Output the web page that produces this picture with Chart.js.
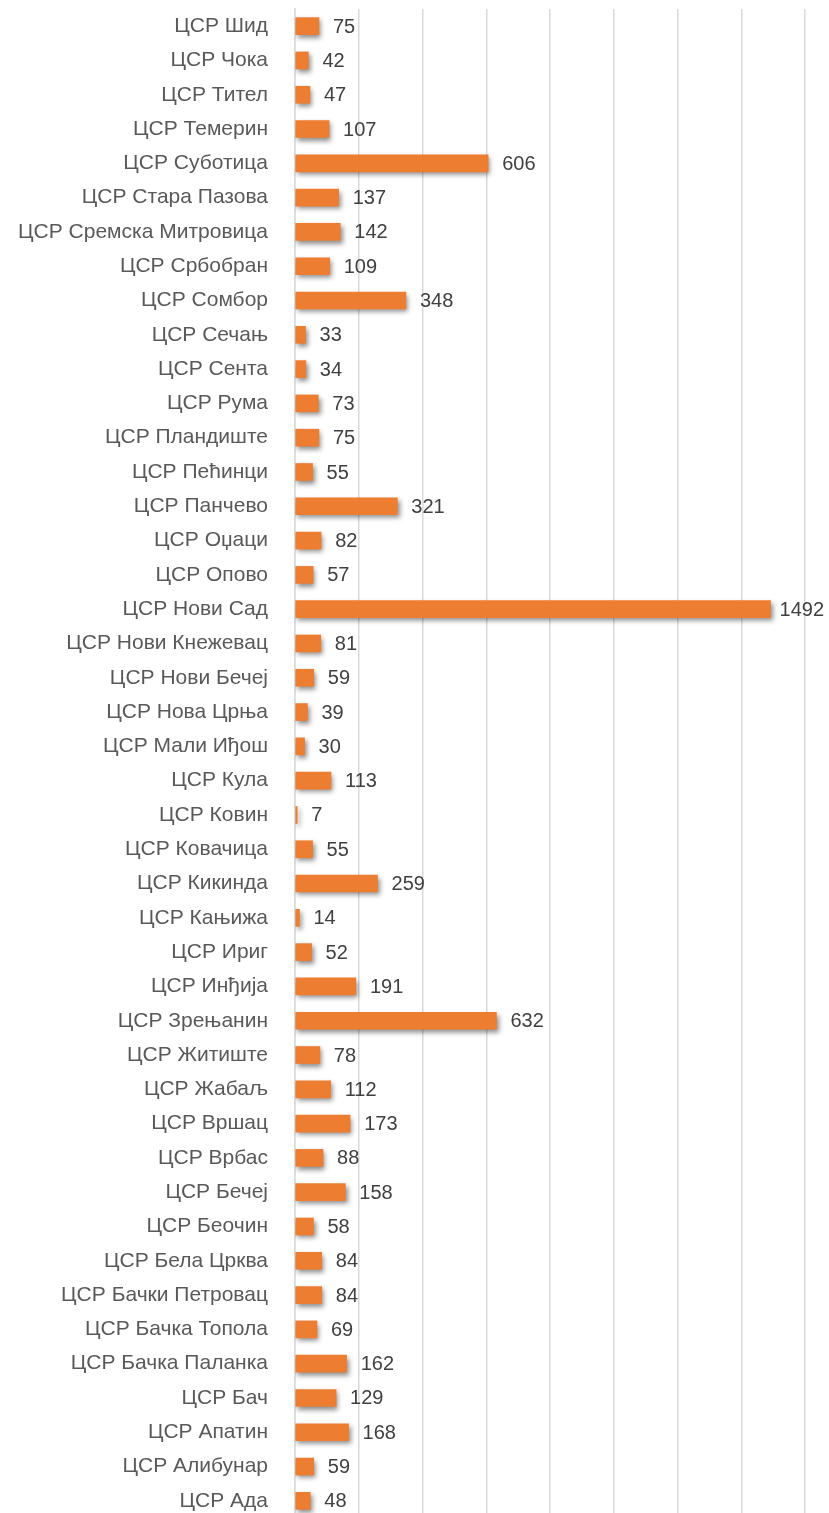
<!DOCTYPE html>
<html>
<head>
<meta charset="utf-8">
<script src="https://cdn.jsdelivr.net/npm/chart.js@4.4.1/dist/chart.umd.min.js"></script>
<style>
  html, body { margin: 0; padding: 0; background: #fff; overflow: hidden; }
  #wrap { position: relative; width: 829px; height: 1518px; }
</style>
</head>
<body>
<div id="wrap"><canvas id="csr"></canvas></div>
<script>
const centers = ['ЦСР Шид', 'ЦСР Чока', 'ЦСР Тител', 'ЦСР Темерин', 'ЦСР Суботица', 'ЦСР Стара Пазова',
    'ЦСР Сремска Митровица', 'ЦСР Србобран', 'ЦСР Сомбор', 'ЦСР Сечањ', 'ЦСР Сента', 'ЦСР Рума',
    'ЦСР Пландиште', 'ЦСР Пећинци', 'ЦСР Панчево', 'ЦСР Оџаци', 'ЦСР Опово', 'ЦСР Нови Сад',
    'ЦСР Нови Кнежевац', 'ЦСР Нови Бечеј', 'ЦСР Нова Црња', 'ЦСР Мали Иђош', 'ЦСР Кула', 'ЦСР Ковин',
    'ЦСР Ковачица', 'ЦСР Кикинда', 'ЦСР Кањижа', 'ЦСР Ириг', 'ЦСР Инђија', 'ЦСР Зрењанин',
    'ЦСР Житиште', 'ЦСР Жабаљ', 'ЦСР Вршац', 'ЦСР Врбас', 'ЦСР Бечеј', 'ЦСР Беочин',
    'ЦСР Бела Црква', 'ЦСР Бачки Петровац', 'ЦСР Бачка Топола', 'ЦСР Бачка Паланка', 'ЦСР Бач',
    'ЦСР Апатин', 'ЦСР Алибунар', 'ЦСР Ада']
const counts = [75, 42, 47, 107, 606, 137, 142, 109, 348, 33, 34, 73, 75, 55, 321, 82, 57, 1492,
    81, 59, 39, 30, 113, 7, 55, 259, 14, 52, 191, 632, 78, 112, 173, 88, 158, 58, 84, 84, 69, 162,
    129, 168, 59, 48]
const axisMax = 1600
const axisStep = 200

// shadow under the bars, like the Excel preset
const barShadow = {
    id: 'barShadow',
    beforeDatasetDraw(chart) {
        const ctx = chart.ctx
        ctx.save()
        ctx.shadowColor = 'rgba(0, 0, 0, 0.45)'
        ctx.shadowBlur = 5
        ctx.shadowOffsetX = 2
        ctx.shadowOffsetY = 3
    },
    afterDatasetDraw(chart) {
        chart.ctx.restore()
    }
}

// value labels at the end of every bar, pulled in if they would run off the right edge
const valueLabels = {
    id: 'valueLabels',
    afterDatasetsDraw(chart) {
        const ctx = chart.ctx
        const meta = chart.getDatasetMeta(0)
        ctx.save()
        ctx.font = '20px "Liberation Sans", sans-serif'
        ctx.fillStyle = '#404040'
        ctx.textAlign = 'left'
        ctx.textBaseline = 'middle'
        meta.data.forEach((bar, i) => {
            const text = String(counts[i])
            const w = ctx.measureText(text).width
            const x = Math.min(bar.x + 14, chart.width - w - 5)
            ctx.fillText(text, x, bar.y + 1)
        })
        ctx.restore()
    }
}

new Chart(document.getElementById('csr'), {
    type: 'bar',
    data: {
        labels: centers,
        datasets: [{
            data: counts,
            barThickness: 17,
            borderWidth: 0,
            backgroundColor: (c) => {
                const bar = c.element
                if (!bar || bar.y === undefined) return '#ED7D31'
                const g = c.chart.ctx.createLinearGradient(0, bar.y - 9, 0, bar.y + 9)
                g.addColorStop(0, '#F4A26C')
                g.addColorStop(0.5, '#F07F36')
                g.addColorStop(1, '#E8701F')
                return g
            }
        }]
    },
    options: {
        indexAxis: 'y',
        responsive: true,
        maintainAspectRatio: false,
        animation: false,
        layout: { padding: { top: 9, right: 24, bottom: 0, left: 0 } },
        plugins: {
            legend: { display: false },
            tooltip: { enabled: false }
        },
        scales: {
            x: {
                min: 0,
                max: axisMax,
                ticks: { display: false, stepSize: axisStep },
                grid: { color: '#d9d9d9', lineWidth: 1.5, drawTicks: false },
                border: { display: false }
            },
            y: {
                afterFit: (scale) => {
                    scale.width = 295
                    scale.paddingTop = 0
                    scale.paddingBottom = 0
                },
                ticks: {
                    padding: 27,
                    color: '#595959',
                    font: { family: '"Liberation Sans", sans-serif', size: 21 }
                },
                grid: { display: false, drawTicks: false },
                border: { display: true, color: '#d9d9d9', width: 1.5 }
            }
        }
    },
    plugins: [barShadow, valueLabels]
});
</script>
</body>
</html>
